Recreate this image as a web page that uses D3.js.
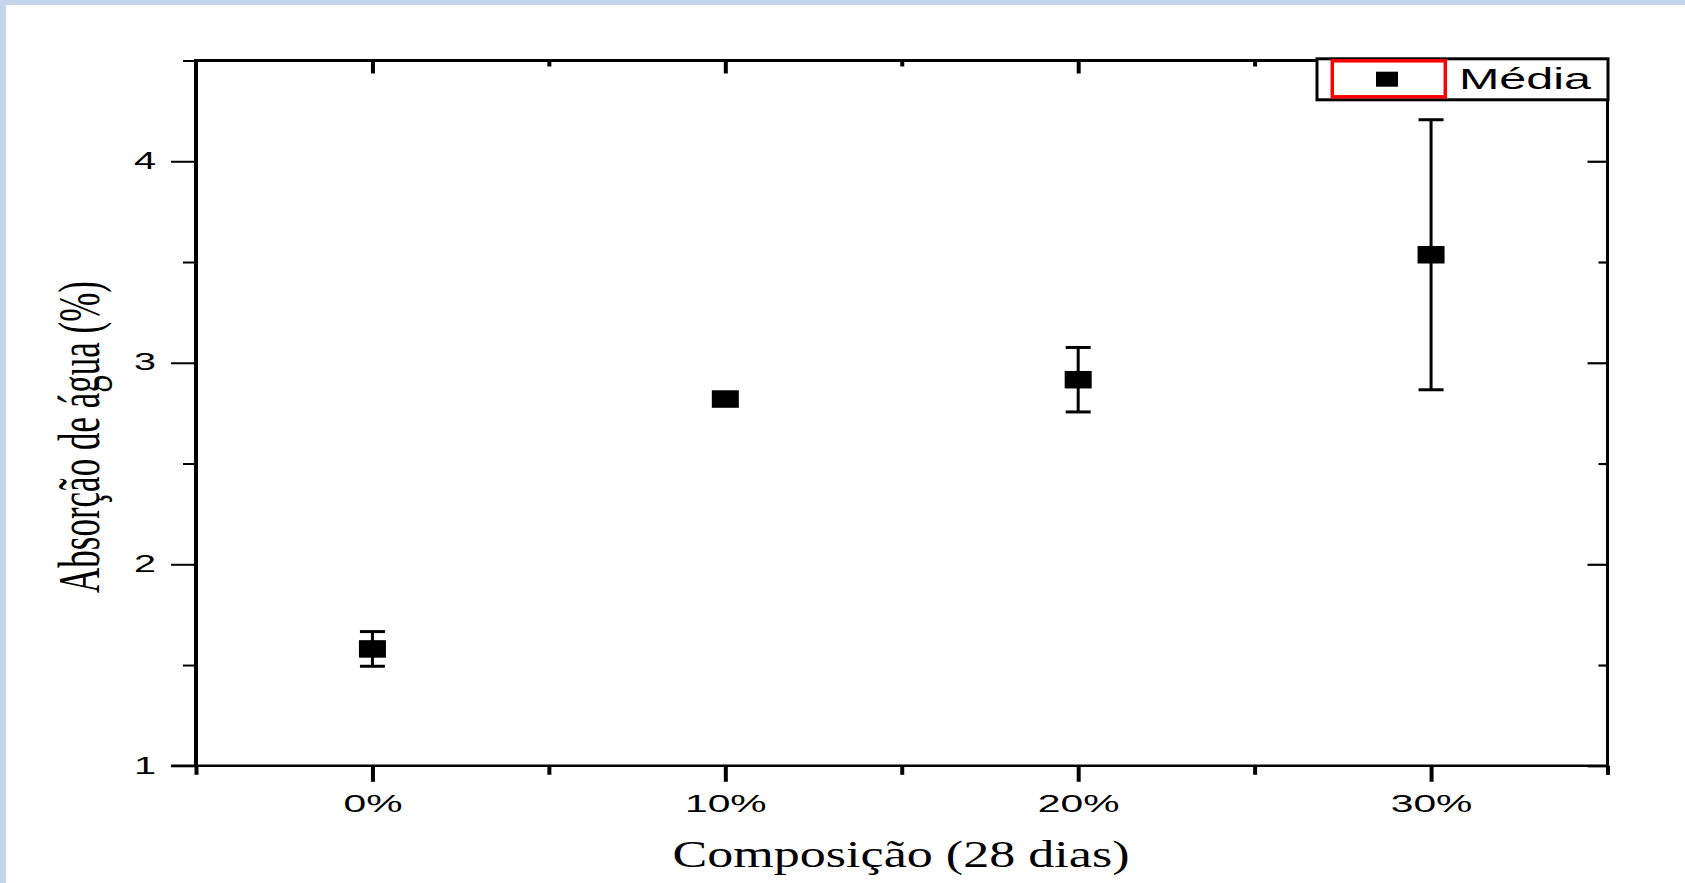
<!DOCTYPE html>
<html>
<head>
<meta charset="utf-8">
<script src="https://cdn.jsdelivr.net/npm/d3@7"></script>
<style>
  html, body { margin: 0; padding: 0; background: #fff; }
  svg { display: block; }
</style>
</head>
<body>
<svg id="chart" width="1685" height="883"></svg>
<script>
// Water absorption (%) after 28 days, by composition
const categories = [0, 10, 20, 30];
const means = [1.58, 2.82, 2.916, 3.536];
const errors = [0.086, 0.03, 0.16, 0.67];

const yMajorTicks = [1, 2, 3, 4];
const yMinorTicks = [1.5, 2.5, 3.5, 4.5];
const xMajorTicks = [0, 10, 20, 30];
const xMinorTicks = [-5, 5, 15, 25, 35];
const xTickLabels = ["0%", "10%", "20%", "30%"];

const xTitle = "Composição (28 dias)";
const yTitle = "Absorção de água (%)";
const legendLabel = "Média";

// ---- layout ----
const W = 1685, H = 883;
const plot = { left: 196, right: 1607.5, top: 60.5, bottom: 765.8 };
const SANS = "'Liberation Sans', Arial, sans-serif";
const SERIF = "'Liberation Serif', 'Times New Roman', serif";

const svg = d3.select("#chart");

// page frame
svg.append("rect").attr("x", 0).attr("y", 0).attr("width", W).attr("height", H).attr("fill", "#fff");
svg.append("rect").attr("x", 0).attr("y", 0).attr("width", W).attr("height", 5).attr("fill", "#c6d5ee");
svg.append("rect").attr("x", 0).attr("y", 0).attr("width", 6).attr("height", H).attr("fill", "#c6d5ee");

const x = d3.scaleLinear().domain([-5, 35]).range([plot.left, plot.right]);
const y = d3.scaleLinear().domain([1, 4.5]).range([plot.bottom, plot.top]);

// widen glyphs horizontally by a factor, keeping anchor
function stretch(sel, k) {
  sel.each(function () {
    const len = this.getComputedTextLength();
    d3.select(this).attr("textLength", len * k).attr("lengthAdjust", "spacingAndGlyphs");
  });
}

function styleAxis(g, width) {
  g.select(".domain").remove();
  g.selectAll(".tick line").attr("stroke", "#000").attr("stroke-width", width);
}

// left axis: outward ticks with labels
const gLeftMajor = svg.append("g")
  .attr("transform", `translate(${plot.left},0)`)
  .call(d3.axisLeft(y).tickValues(yMajorTicks).tickSize(25).tickPadding(15).tickFormat(d3.format("d")));
styleAxis(gLeftMajor, 2);
gLeftMajor.selectAll(".tick text")
  .attr("font-family", SANS).attr("font-size", 24).attr("fill", "#000")
  .attr("dy", "0.30em")
  .call(stretch, 1.65);

const gLeftMinor = svg.append("g")
  .attr("transform", `translate(${plot.left},0)`)
  .call(d3.axisLeft(y).tickValues(yMinorTicks).tickSize(13).tickFormat(""));
styleAxis(gLeftMinor, 2);

// right axis: inward ticks
const gRightMajor = svg.append("g")
  .attr("transform", `translate(${plot.right},0)`)
  .call(d3.axisLeft(y).tickValues(yMajorTicks).tickSize(20).tickFormat(""));
styleAxis(gRightMajor, 2.2);
const gRightMinor = svg.append("g")
  .attr("transform", `translate(${plot.right},0)`)
  .call(d3.axisLeft(y).tickValues(yMinorTicks).tickSize(9).tickFormat(""));
styleAxis(gRightMinor, 2.2);

// bottom axis: outward ticks with labels
const gBottomMajor = svg.append("g")
  .attr("transform", `translate(0,${plot.bottom})`)
  .call(d3.axisBottom(x).tickValues(xMajorTicks).tickSize(16).tickPadding(13)
    .tickFormat((d, i) => xTickLabels[i]));
styleAxis(gBottomMajor, 4);
gBottomMajor.selectAll(".tick text")
  .attr("font-family", SANS).attr("font-size", 24).attr("fill", "#000")
  .call(stretch, 1.7);

const gBottomMinor = svg.append("g")
  .attr("transform", `translate(0,${plot.bottom})`)
  .call(d3.axisBottom(x).tickValues(xMinorTicks).tickSize(9).tickFormat(""));
styleAxis(gBottomMinor, 4);

// top axis: inward ticks
const gTopMajor = svg.append("g")
  .attr("transform", `translate(0,${plot.top})`)
  .call(d3.axisBottom(x).tickValues(xMajorTicks).tickSize(13).tickFormat(""));
styleAxis(gTopMajor, 4);
const gTopMinor = svg.append("g")
  .attr("transform", `translate(0,${plot.top})`)
  .call(d3.axisBottom(x).tickValues(xMinorTicks.slice(1, -1)).tickSize(6).tickFormat(""));
styleAxis(gTopMinor, 4);

// plot frame
const frame = svg.append("g").attr("stroke", "#000").attr("fill", "none");
frame.append("line").attr("x1", plot.left).attr("x2", plot.left)
  .attr("y1", plot.top - 1.5).attr("y2", plot.bottom).attr("stroke-width", 4);
frame.append("line").attr("x1", plot.left).attr("x2", plot.right)
  .attr("y1", plot.top).attr("y2", plot.top).attr("stroke-width", 3);
frame.append("line").attr("x1", plot.right).attr("x2", plot.right)
  .attr("y1", plot.top - 1.5).attr("y2", plot.bottom + 9).attr("stroke-width", 3);
frame.append("line").attr("x1", plot.left - 25).attr("x2", plot.right + 1.5)
  .attr("y1", plot.bottom).attr("y2", plot.bottom).attr("stroke-width", 2.4);

// data: error bars and mean markers
const points = categories.map((c, i) => ({ c, m: means[i], e: errors[i] }));
const capW = 25;
const marks = svg.append("g").selectAll("g").data(points).join("g");
marks.append("line")
  .attr("x1", d => x(d.c)).attr("x2", d => x(d.c))
  .attr("y1", d => y(d.m + d.e)).attr("y2", d => y(d.m - d.e))
  .attr("stroke", "#000").attr("stroke-width", 3);
marks.append("line")
  .attr("x1", d => x(d.c) - capW / 2).attr("x2", d => x(d.c) + capW / 2)
  .attr("y1", d => y(d.m + d.e)).attr("y2", d => y(d.m + d.e))
  .attr("stroke", "#000").attr("stroke-width", 3);
marks.append("line")
  .attr("x1", d => x(d.c) - capW / 2).attr("x2", d => x(d.c) + capW / 2)
  .attr("y1", d => y(d.m - d.e)).attr("y2", d => y(d.m - d.e))
  .attr("stroke", "#000").attr("stroke-width", 3);
const mW = 27, mH = 17.5;
marks.append("rect")
  .attr("x", d => x(d.c) - mW / 2).attr("y", d => y(d.m) - mH / 2)
  .attr("width", mW).attr("height", mH).attr("fill", "#000");

// legend
const lg = svg.append("g");
lg.append("rect").attr("x", 1317).attr("y", 58.8).attr("width", 291).attr("height", 41)
  .attr("fill", "#fff").attr("stroke", "#000").attr("stroke-width", 3);
lg.append("rect").attr("x", 1332.3).attr("y", 60.8).attr("width", 113).attr("height", 36)
  .attr("fill", "none").attr("stroke", "#ff0000").attr("stroke-width", 3.5);
lg.append("rect").attr("x", 1376).attr("y", 71.7).attr("width", 22).attr("height", 15).attr("fill", "#000");
lg.append("text").attr("x", 1459).attr("y", 89)
  .attr("font-family", SANS).attr("font-size", 30).attr("fill", "#000")
  .attr("textLength", 132).attr("lengthAdjust", "spacingAndGlyphs")
  .text(legendLabel);

// axis titles
svg.append("text")
  .attr("x", 901).attr("y", 866.7)
  .attr("text-anchor", "middle")
  .attr("font-family", SERIF).attr("font-size", 38).attr("fill", "#000")
  .attr("textLength", 457).attr("lengthAdjust", "spacingAndGlyphs")
  .text(xTitle);

svg.append("text")
  .attr("transform", "translate(98.5,437) rotate(-90)")
  .attr("text-anchor", "middle")
  .attr("font-family", SERIF).attr("font-size", 60).attr("fill", "#000")
  .attr("textLength", 312).attr("lengthAdjust", "spacingAndGlyphs")
  .text(yTitle);
</script>
</body>
</html>
